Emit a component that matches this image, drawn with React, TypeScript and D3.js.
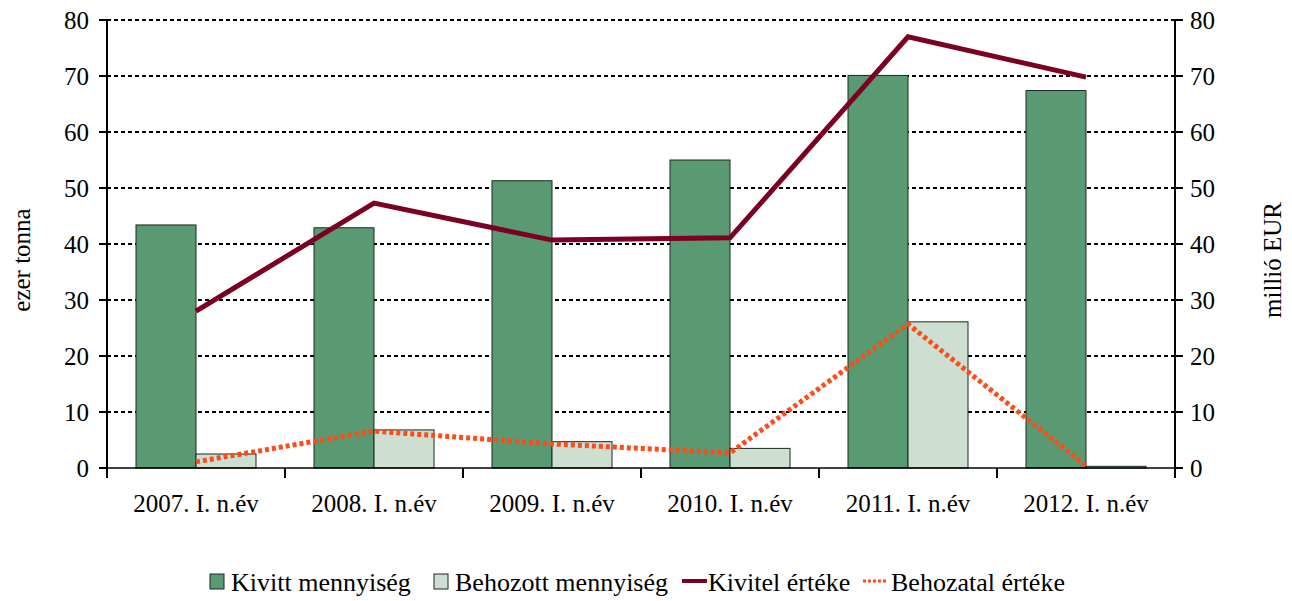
import React from "react";
import * as d3 from "d3";

const categories = ["2007. I. n.év", "2008. I. n.év", "2009. I. n.év", "2010. I. n.év", "2011. I. n.év", "2012. I. n.év"];
const kivittMennyiseg = [43.4, 42.9, 51.3, 55.0, 70.1, 67.4];
const behozottMennyiseg = [2.5, 6.8, 4.7, 3.5, 26.1, 0.3];
const kivitelErteke = [28.0, 47.3, 40.7, 41.1, 77.0, 69.8];
const behozatalErteke = [1.1, 6.6, 4.3, 2.7, 25.7, 0.4];
const leftTicks = [0, 10, 20, 30, 40, 50, 60, 70, 80];
const rightTicks = [0, 10, 20, 30, 40, 50, 60, 70, 80];

const W = 1292, H = 601;
const L = 107, R = 1175, T = 20, B = 468;
const FONT = "Liberation Serif, Times New Roman, serif";
const DARK = "#5a9a73";
const LIGHT = "#cddfd1";
const RED = "#7b0022";
const ORANGE = "#ff4a1a";

export default function App() {
  const x = d3.scaleBand<string>().domain(categories).range([L, R]).padding(0);
  const yL = d3.scaleLinear().domain([0, 80]).range([B, T]);
  const yR = d3.scaleLinear().domain([0, 80]).range([B, T]);
  const bw = 60;
  const cx = (c: string) => (x(c) as number) + x.bandwidth() / 2;
  const line = d3.line<number>().x((_, i) => cx(categories[i])).y((d) => yR(d));
  const ts = { fontFamily: FONT };

  return (
    <svg width={W} height={H} style={{ position: "absolute", left: 0, top: 0, background: "#fff", fontFamily: FONT }}>
      {leftTicks.filter((t) => t > 0).map((t) => (
        <line key={"g" + t} x1={L} x2={R} y1={yL(t)} y2={yL(t)} stroke="#000" strokeWidth={2} strokeDasharray="4,3" />
      ))}
      {categories.map((c, i) => (
        <g key={"b" + c}>
          <rect x={cx(c) - bw} y={yL(kivittMennyiseg[i])} width={bw} height={B - yL(kivittMennyiseg[i])} fill={DARK} stroke="#1a2a1f" strokeWidth={1} />
          <rect x={cx(c)} y={yL(behozottMennyiseg[i])} width={bw} height={B - yL(behozottMennyiseg[i])} fill={LIGHT} stroke="#1a2a1f" strokeWidth={1} />
        </g>
      ))}
      <line x1={L} x2={R} y1={B} y2={B} stroke="#000" strokeWidth={1.5} />
      <path d={line(kivitelErteke) || ""} fill="none" stroke={RED} strokeWidth={5} />
      <path d={line(behozatalErteke) || ""} fill="none" stroke={ORANGE} strokeWidth={5} strokeDasharray="4,3" />
      <line x1={L} x2={L} y1={T} y2={B + 10} stroke="#000" strokeWidth={2} />
      <line x1={R} x2={R} y1={T} y2={B + 10} stroke="#000" strokeWidth={2} />
      {leftTicks.map((t) => (
        <g key={"l" + t}>
          <line x1={L - 8} x2={L} y1={yL(t)} y2={yL(t)} stroke="#000" strokeWidth={2} />
          <text style={ts} x={L - 18} y={yL(t)} dy="0.35em" textAnchor="end" fontSize={25}>{t}</text>
        </g>
      ))}
      {rightTicks.map((t) => (
        <g key={"r" + t}>
          <line x1={R} x2={R + 8} y1={yR(t)} y2={yR(t)} stroke="#000" strokeWidth={2} />
          <text style={ts} x={R + 15} y={yR(t)} dy="0.35em" textAnchor="start" fontSize={25}>{t}</text>
        </g>
      ))}
      {categories.map((c, i) => (
        <line key={"ct" + i} x1={x(c) as number} x2={x(c) as number} y1={B} y2={B + 10} stroke="#000" strokeWidth={2} />
      ))}
      {categories.map((c) => (
        <text style={ts} key={"cl" + c} x={cx(c)} y={B + 44} textAnchor="middle" fontSize={25}>{c}</text>
      ))}
      <text style={ts} transform={`translate(30,260) rotate(-90)`} textAnchor="middle" fontSize={25}>ezer tonna</text>
      <text style={ts} transform={`translate(1281,260) rotate(-90)`} textAnchor="middle" fontSize={25}>millió EUR</text>
      <g fontSize={26}>
        <rect x={210} y={574} width={14} height={15} fill={DARK} stroke="#222" strokeWidth={1} />
        <text style={ts} x={231} y={591}>Kivitt mennyiség</text>
        <rect x={434} y={574} width={14} height={15} fill={LIGHT} stroke="#222" strokeWidth={1} />
        <text style={ts} x={455} y={591}>Behozott mennyiség</text>
        <line x1={682} x2={707} y1={581} y2={581} stroke={RED} strokeWidth={4} />
        <text style={ts} x={708} y={591}>Kivitel értéke</text>
        <line x1={863} x2={888} y1={581} y2={581} stroke={ORANGE} strokeWidth={3} strokeDasharray="3,2" />
        <text style={ts} x={891} y={591}>Behozatal értéke</text>
      </g>
    </svg>
  );
}
